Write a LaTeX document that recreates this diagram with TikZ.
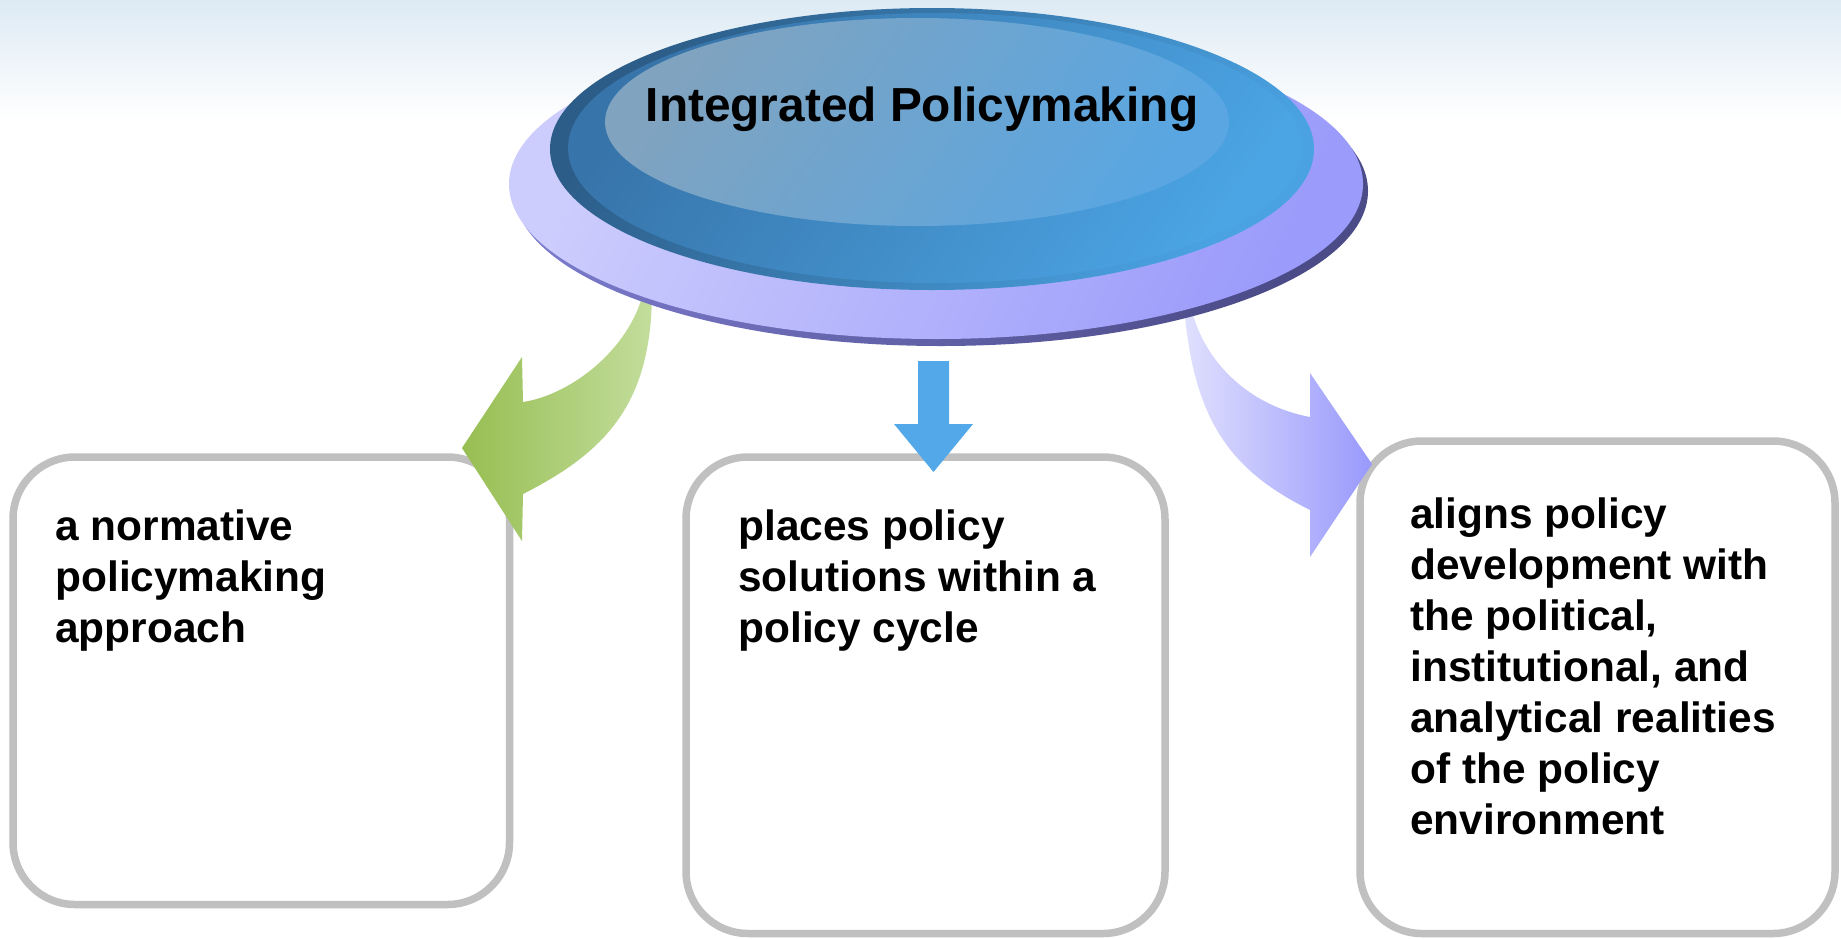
\documentclass[tikz,border=0pt]{standalone}
\usepackage{fontspec}
\setmainfont{Liberation Sans}
\definecolor{boxgray}{HTML}{C0C0C0}
\definecolor{bgtop}{HTML}{DDEAF4}
\definecolor{greenL}{HTML}{97BE52}
\definecolor{greenR}{HTML}{C3DD9C}
\definecolor{purpL}{HTML}{E0E0FE}
\definecolor{purpR}{HTML}{9999FC}
\definecolor{arrowblue}{HTML}{52A8E8}
\definecolor{lavLight}{HTML}{CDCDFD}
\definecolor{lavDark}{HTML}{9B9BFB}
\definecolor{edgeLight}{HTML}{7A7ACC}
\definecolor{edgeDark}{HTML}{4B4B88}
\definecolor{blueOutA}{HTML}{2C5D88}
\definecolor{blueOutB}{HTML}{4AA2E2}
\definecolor{blueMidA}{HTML}{3774AA}
\definecolor{blueMidB}{HTML}{4BA4E3}
\definecolor{innerA}{HTML}{80A3BF}
\definecolor{innerB}{HTML}{59A6E2}
\begin{document}
\begin{tikzpicture}[x=0.5pt,y=-0.5pt,
  box/.style={draw=boxgray, line width=3.75pt, rounded corners=31pt, inner sep=0pt, fill=white},
  body/.style={font=\bfseries\fontsize{21.2}{25.5}\selectfont, align=left, anchor=base west, inner sep=0pt},
  titletext/.style={font=\bfseries\fontsize{23.9}{28}\selectfont, anchor=base, inner sep=0pt}
]
\useasboundingbox (0,0) rectangle (1841,938);
\fill[white] (0,0) rectangle (1841,938);
\shade[top color=bgtop, bottom color=white] (0,0) rectangle (1841,120);

% boxes
\node[box, minimum width=248.25pt, minimum height=223.75pt] (b1) at (261.25,680.75) {};
\node[box, minimum width=239.5pt, minimum height=238.25pt] (b2) at (925.5,695.25) {};
\node[box, minimum width=237.5pt, minimum height=246.25pt] (b3) at (1597.5,687.25) {};

% text nodes: base anchor = baseline of the last line
\node[body] (t1) at (55,642) {a normative\\policymaking\\approach};
\node[body] (t2) at (738,642) {places policy\\solutions within a\\policy cycle};
\node[body] (t3) at (1410,834) {aligns policy\\development with\\the political,\\institutional, and\\analytical realities\\of the policy\\environment};

% arrows
\shade[left color=greenL, right color=greenR]
  (652,290) .. controls (652,400) and (610,450) .. (523,494)
  -- (522,541) -- (462,448) -- (522,357) -- (523,402)
  .. controls (570,395) and (630,350) .. (644,290) -- cycle;
\shade[left color=purpL, right color=purpR]
  (1183,290) .. controls (1190,420) and (1230,470) .. (1310,510)
  -- (1310,557) -- (1372,464) -- (1310,373) -- (1310,417)
  .. controls (1245,405) and (1195,355) .. (1188,290) -- cycle;
\fill[arrowblue] (918,361) -- (949,361) -- (949,424) -- (973,424)
  -- (933.5,472) -- (894,424) -- (918,424) -- cycle;

% central disc
\shade[top color=edgeLight, bottom color=edgeDark, shading angle=70]
  (941,191) ellipse [x radius=427, y radius=155];
\shade[top color=lavLight, bottom color=lavDark, shading angle=65]
  (936,184) ellipse [x radius=427, y radius=155];
\shade[top color=blueOutA, bottom color=blueOutB, shading angle=55]
  (932,149) ellipse [x radius=382, y radius=141];
\shade[top color=blueMidA, bottom color=blueMidB, shading angle=55]
  (935,148) ellipse [x radius=367, y radius=135];
\shade[top color=innerA, bottom color=innerB, shading angle=55]
  (917,122) ellipse [x radius=312, y radius=104];
\node[titletext] (title) at (922,121.7) {Integrated Policymaking};
\end{tikzpicture}
\end{document}
